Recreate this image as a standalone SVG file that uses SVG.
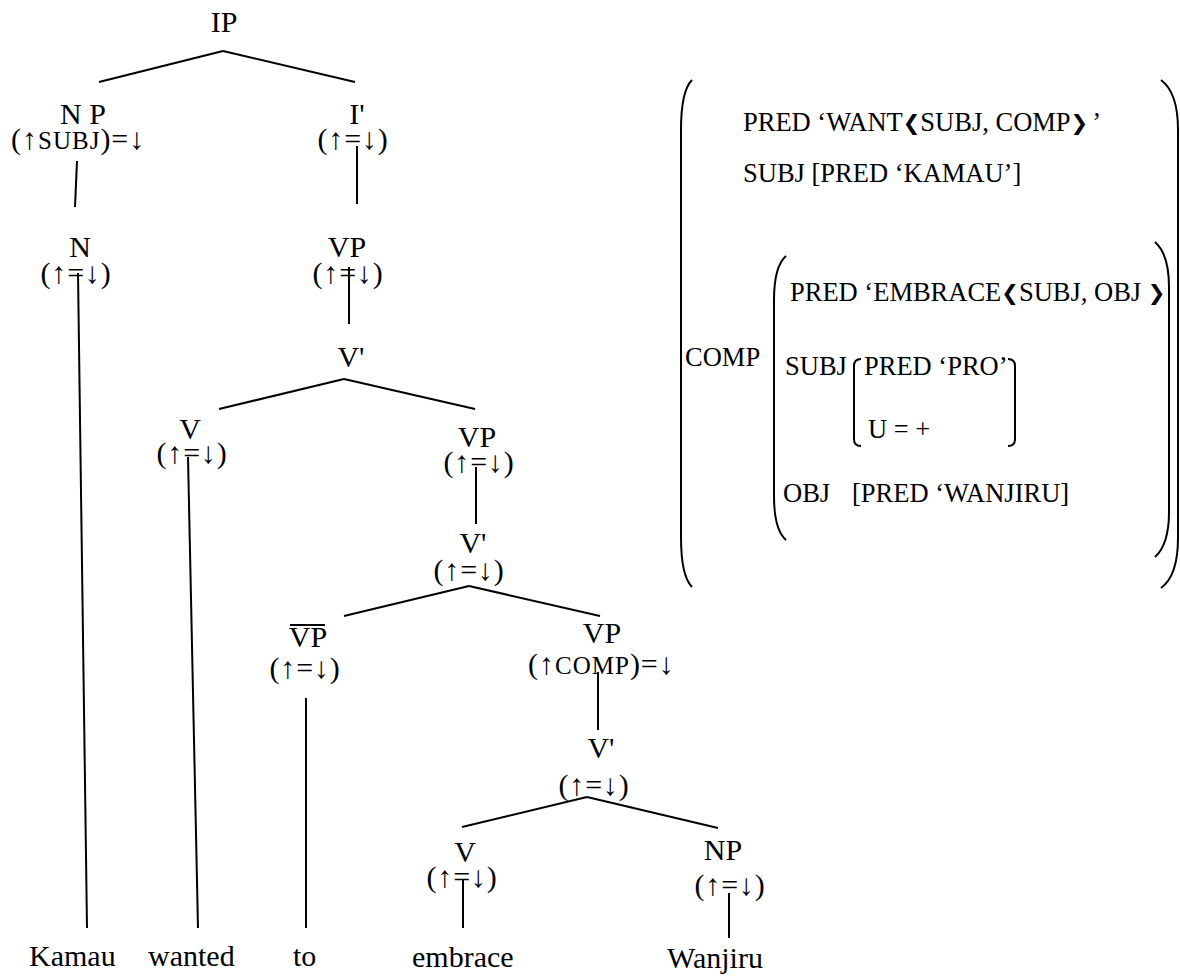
<svg xmlns="http://www.w3.org/2000/svg" width="1180" height="976" viewBox="0 0 1180 976">
<style>
text { font-family: "Liberation Serif", "Times New Roman", serif; fill: #000; }
.lab { font-size: 30px; text-anchor: middle; }
.ann { font-size: 30px; letter-spacing: 1px; }
.annc { font-size: 30px; text-anchor: middle; letter-spacing: 0.8px; }
.sc { font-size: 25px; }
.word { font-size: 30px; }
.avm { font-size: 26.5px; }
.chev { font-family: "DejaVu Sans", sans-serif; font-size: 21px; }
.edge { stroke: #000; stroke-width: 2; fill: none; }
.br { stroke: #000; stroke-width: 2; fill: none; }
.bar { stroke: #000; stroke-width: 2; }
</style>
<rect width="1180" height="976" fill="#fff"/>
<g id="connectors" class="edge">
<line x1="223" y1="51" x2="99" y2="82"/>
<line x1="223" y1="51" x2="355" y2="82"/>
<line x1="77" y1="161" x2="75" y2="207"/>
<line x1="357" y1="146" x2="357" y2="204"/>
<line x1="78" y1="273" x2="87" y2="928"/>
<line x1="349" y1="267" x2="349" y2="324"/>
<line x1="344" y1="379" x2="219" y2="409"/>
<line x1="344" y1="379" x2="475" y2="409"/>
<line x1="188" y1="457" x2="198" y2="928"/>
<line x1="476" y1="467" x2="476" y2="524"/>
<line x1="469" y1="586" x2="344" y2="616"/>
<line x1="469" y1="586" x2="600" y2="616"/>
<line x1="306" y1="698" x2="306" y2="928"/>
<line x1="598" y1="672" x2="598" y2="730"/>
<line x1="587" y1="797" x2="462" y2="827"/>
<line x1="587" y1="797" x2="718" y2="828"/>
<line x1="463" y1="880" x2="463" y2="928"/>
<line x1="729" y1="893" x2="729" y2="938"/>
</g>
<g id="n-ip"><text class="lab" x="224" y="32">IP</text></g>
<g id="n-np-subj"><text class="lab" x="83" y="124">N P</text>
<text class="ann" x="11" y="149">(↑<tspan class="sc">SUBJ</tspan>)=↓</text></g>
<g id="n-ibar"><text class="lab" x="357" y="124">I'</text><text class="annc" x="353" y="149">(↑=↓)</text></g>
<g id="n-n"><text class="lab" x="80" y="257">N</text><text class="annc" x="76" y="283">(↑=↓)</text></g>
<g id="n-vp1"><text class="lab" x="347" y="257">VP</text><text class="annc" x="348" y="283">(↑=↓)</text></g>
<g id="n-vbar1"><text class="lab" x="351" y="367">V'</text></g>
<g id="n-v1"><text class="lab" x="190" y="439">V</text><text class="annc" x="192" y="463">(↑=↓)</text></g>
<g id="n-vp2"><text class="lab" x="477" y="447">VP</text><text class="annc" x="479" y="472">(↑=↓)</text></g>
<g id="n-vbar2"><text class="lab" x="473" y="553">V'</text><text class="annc" x="469" y="580">(↑=↓)</text></g>
<g id="n-vpbar"><line class="bar" x1="290" y1="625" x2="325" y2="625"/><text class="lab" x="308" y="647">VP</text><text class="annc" x="305" y="678">(↑=↓)</text></g>
<g id="n-vp3"><text class="lab" x="602" y="643">VP</text>
<text class="ann" x="528" y="674">(↑<tspan class="sc">COMP</tspan>)=↓</text></g>
<g id="n-vbar3"><text class="lab" x="601" y="758">V'</text><text class="annc" x="594" y="795">(↑=↓)</text></g>
<g id="n-v2"><text class="lab" x="465" y="862">V</text><text class="annc" x="462" y="887">(↑=↓)</text></g>
<g id="n-np-obj"><text class="lab" x="723" y="860">NP</text><text class="annc" x="730" y="895">(↑=↓)</text></g>
<g id="w-kamau"><text class="word" x="29" y="966">Kamau</text></g>
<g id="w-wanted"><text class="word" x="148" y="966">wanted</text></g>
<g id="w-to"><text class="word" x="293" y="966">to</text></g>
<g id="w-embrace"><text class="word" x="412" y="967">embrace</text></g>
<g id="w-wanjiru"><text class="word" x="667" y="968">Wanjiru</text></g>
<g id="fstructure">
<path class="br" d="M692 80 C684 88 681 105 681 130 L681 537 C681 562 684 579 692 587"/>
<path class="br" d="M1161 80 C1172 88 1178 105 1178 130 L1178 538 C1178 563 1172 580 1161 588"/>
<path class="br" d="M786 256 C778 263 774 278 774 300 L774 496 C774 518 778 533 786 540"/>
<path class="br" d="M1155 242 C1164 250 1169 265 1169 287 L1169 512 C1169 534 1164 549 1155 557"/>
<path class="br" d="M861 359 Q854 359 854 366 L854 439 Q854 446 861 446"/>
<path class="br" d="M1008 359 Q1015 359 1015 366 L1015 439 Q1015 446 1008 446"/>
<text class="avm" x="743" y="131">PRED ‘WANT<tspan class="chev" dy="-1">❮</tspan><tspan dy="1">SUBJ, COMP</tspan><tspan class="chev" dy="-1">❯</tspan><tspan dx="4" dy="1">’</tspan></text>
<text class="avm" x="743" y="182">SUBJ [PRED ‘KAMAU’]</text>
<text class="avm" x="790" y="301">PRED ‘EMBRACE<tspan class="chev" dy="-1">❮</tspan><tspan dy="1">SUBJ, OBJ </tspan><tspan class="chev" dy="-1">❯</tspan></text>
<text class="avm" x="685" y="366">COMP</text>
<text class="avm" x="785" y="375">SUBJ</text>
<text class="avm" x="864" y="375">PRED ‘PRO’</text>
<text class="avm" x="868" y="438">U = +</text>
<text class="avm" x="783" y="502">OBJ</text>
<text class="avm" x="852" y="502">[PRED ‘WANJIRU]</text>
</g>
</svg>
